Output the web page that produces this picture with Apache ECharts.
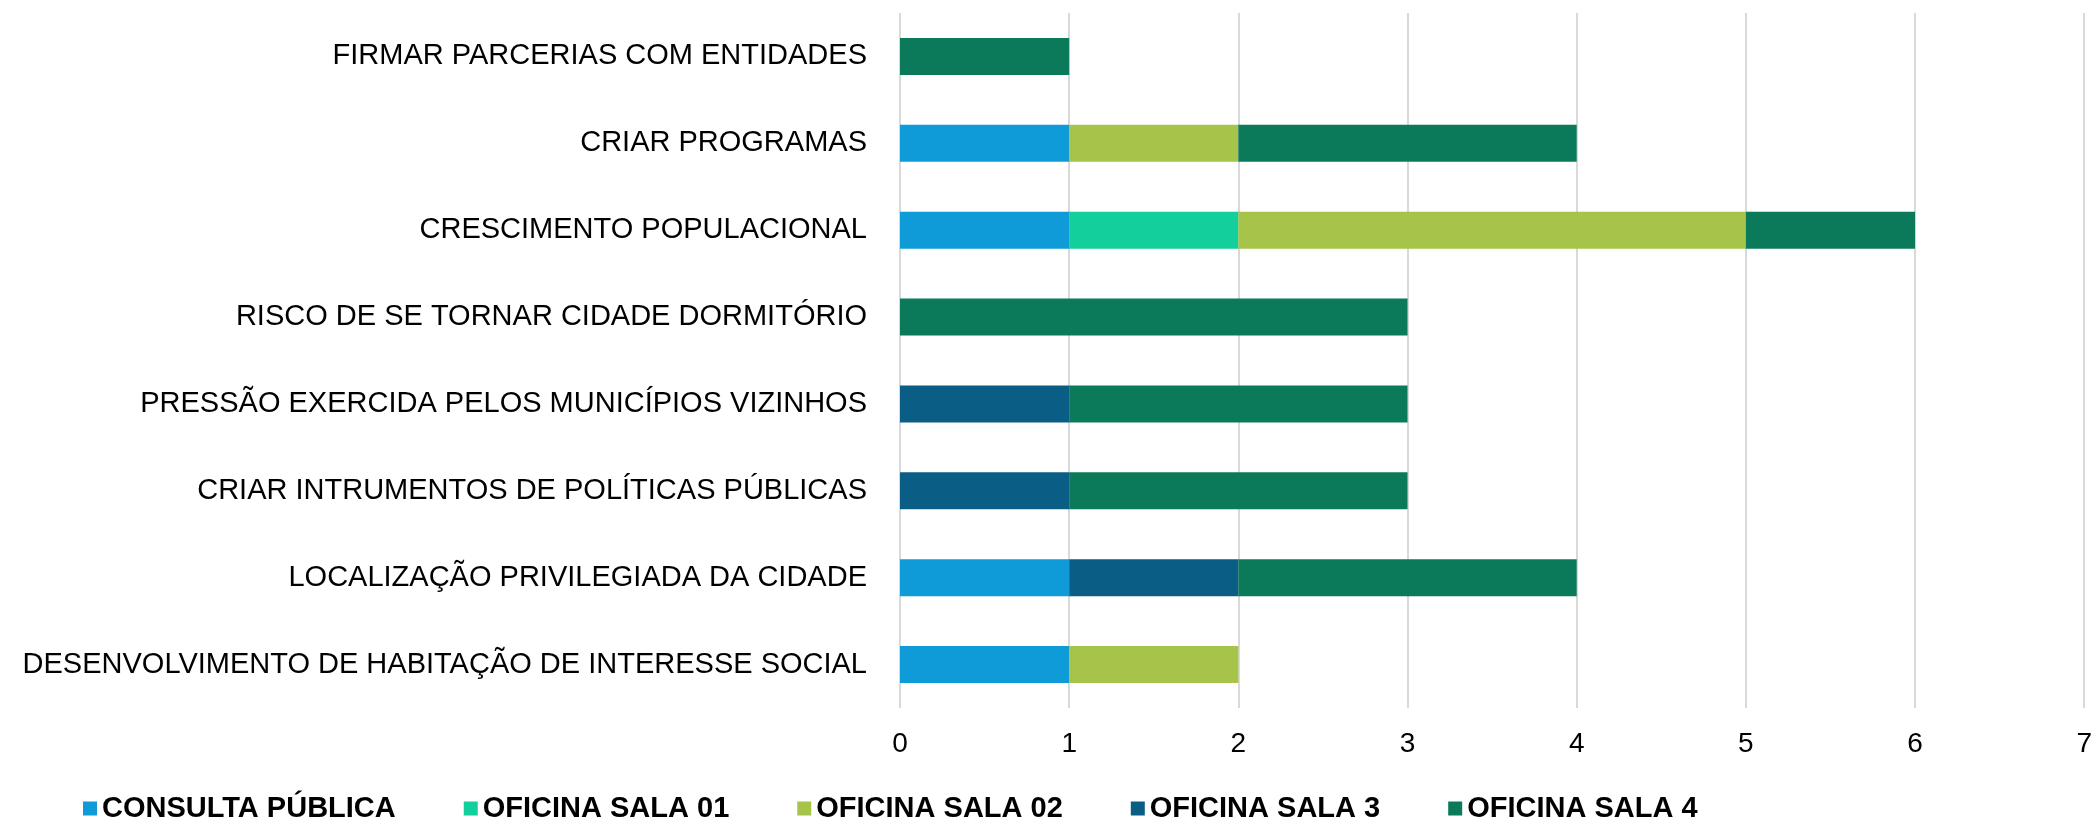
<!DOCTYPE html>
<html>
<head>
<meta charset="utf-8">
<script src="https://cdn.jsdelivr.net/npm/echarts@6/dist/echarts.min.js"></script>
<style>
  html, body { margin: 0; padding: 0; background: #fff; }
  #chart { width: 2095px; height: 820px; }
</style>
</head>
<body>
<div id="chart"></div>
<script>
// categories, top to bottom
const categories = [
  "FIRMAR PARCERIAS COM ENTIDADES",
  "CRIAR PROGRAMAS",
  "CRESCIMENTO POPULACIONAL",
  "RISCO DE SE TORNAR CIDADE DORMITÓRIO",
  "PRESSÃO EXERCIDA PELOS MUNICÍPIOS VIZINHOS",
  "CRIAR INTRUMENTOS DE POLÍTICAS PÚBLICAS",
  "LOCALIZAÇÃO PRIVILEGIADA DA CIDADE",
  "DESENVOLVIMENTO DE HABITAÇÃO DE INTERESSE SOCIAL"
];

const consultaPublica = [0, 1, 1, 0, 0, 0, 1, 1];
const oficinaSala01   = [0, 0, 1, 0, 0, 0, 0, 0];
const oficinaSala02   = [0, 1, 3, 0, 0, 0, 0, 1];
const oficinaSala3    = [0, 0, 0, 0, 1, 1, 1, 0];
const oficinaSala4    = [1, 2, 1, 3, 2, 2, 2, 0];

const seriesNames = ["CONSULTA PÚBLICA", "OFICINA SALA 01", "OFICINA SALA 02", "OFICINA SALA 3", "OFICINA SALA 4"];
const seriesData = [consultaPublica, oficinaSala01, oficinaSala02, oficinaSala3, oficinaSala4];
const colors = ["#0f9bd8", "#12cf9b", "#a6c34a", "#0a5d85", "#0b7a5b"];

const font = "'Liberation Sans', Arial, sans-serif";

const chart = echarts.init(document.getElementById("chart"));
chart.setOption({
  animation: false,
  color: colors,
  grid: { left: 900, right: 5, top: 13, bottom: 112, containLabel: false },
  legend: {
    left: 83,
    top: 794,
    padding: 0,
    itemWidth: 14,
    itemHeight: 14,
    itemGap: 68,
    icon: "rect",
    textStyle: { fontFamily: font, fontSize: 29, fontWeight: "bold", color: "#000" },
    data: seriesNames
  },
  xAxis: {
    type: "value",
    min: 0,
    max: 7,
    interval: 1,
    axisLine: { show: false },
    axisTick: { show: false },
    splitLine: { lineStyle: { color: "#d9d9d9", width: 2 } },
    axisLabel: { fontFamily: font, fontSize: 28, color: "#000", margin: 22 }
  },
  yAxis: {
    type: "category",
    inverse: true,
    data: categories,
    axisLine: { show: false },
    axisTick: { show: false },
    axisLabel: { fontFamily: font, fontSize: 29, color: "#000", margin: 33 }
  },
  series: seriesNames.map((name, i) => ({
    name: name,
    type: "bar",
    stack: "total",
    barWidth: 37,
    data: seriesData[i].map(v => v === 0 ? null : v)
  }))
});
</script>
</body>
</html>
